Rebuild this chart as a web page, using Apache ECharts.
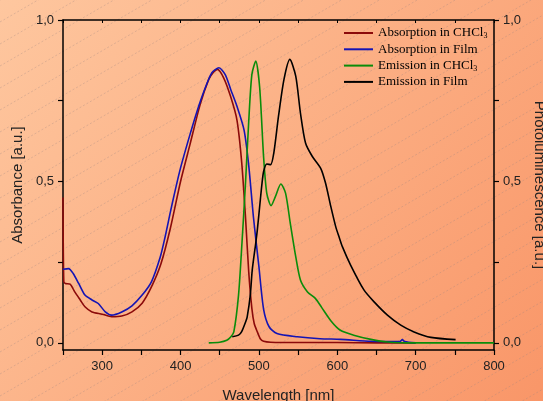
<!DOCTYPE html>
<html>
<head>
<meta charset="utf-8">
<script src="https://cdn.jsdelivr.net/npm/echarts@6/dist/echarts.min.js"></script>
<style>
  html, body { margin: 0; padding: 0; }
  #main { width: 543px; height: 401px; }
</style>
</head>
<body>
<div id="main"></div>
<script>
// 读图得到的数据 (wavelength in nm / value)
var absChclWl  = [250, 251, 253, 259, 265, 272, 278, 287, 300, 312, 325, 338, 351, 363, 375, 387, 400, 412, 425, 436, 442, 447, 455, 464, 472, 478, 483, 487, 491, 494, 498, 502, 506, 515, 550, 600, 650, 700];
var absChclVal = [0.45, 0.19, 0.184, 0.182, 0.158, 0.133, 0.112, 0.096, 0.089, 0.081, 0.083, 0.096, 0.123, 0.174, 0.245, 0.355, 0.5, 0.614, 0.738, 0.816, 0.838, 0.847, 0.821, 0.762, 0.69, 0.56, 0.385, 0.22, 0.107, 0.06, 0.034, 0.012, 0.005, 0.002, 0.001, 0.001, 0.0, 0.0];

var absFilmWl  = [250, 257, 263, 270, 278, 287, 295, 304, 312, 325, 338, 351, 363, 374, 380, 387, 392, 400, 412, 421, 430, 440, 449, 457, 464, 472, 481, 487, 493, 500, 506, 513, 523, 549, 578, 604, 643, 680, 683, 686, 700];
var absFilmVal = [0.228, 0.23, 0.215, 0.184, 0.148, 0.133, 0.122, 0.096, 0.086, 0.096, 0.115, 0.148, 0.19, 0.265, 0.325, 0.405, 0.46, 0.542, 0.645, 0.717, 0.78, 0.837, 0.852, 0.831, 0.785, 0.733, 0.66, 0.55, 0.39, 0.236, 0.104, 0.05, 0.029, 0.019, 0.013, 0.011, 0.005, 0.004, 0.01, 0.004, 0.0];

var emChclWl  = [436, 450, 459, 464, 468, 474, 478.5, 483, 487, 491, 496, 501, 506, 510, 515.5, 521, 528, 534, 540, 547, 553, 562, 572, 580, 592, 604, 621, 643, 664, 700, 800];
var emChclVal = [0, 0.002, 0.008, 0.018, 0.034, 0.148, 0.314, 0.5, 0.686, 0.831, 0.873, 0.79, 0.575, 0.464, 0.425, 0.453, 0.492, 0.464, 0.371, 0.267, 0.195, 0.158, 0.138, 0.11, 0.068, 0.039, 0.024, 0.011, 0.003, 0.0, 0.0];

var emFilmWl  = [466, 474, 478, 483, 485, 489, 491.5, 496, 498, 502, 504, 506, 510, 515, 519, 525, 532, 539.5, 547, 553, 559.5, 568, 579, 585, 591.5, 598, 602, 606.5, 617, 634, 647, 664, 681, 698, 719.5, 751];
var emFilmVal = [0.019, 0.024, 0.035, 0.065, 0.08, 0.148, 0.226, 0.31, 0.35, 0.448, 0.495, 0.531, 0.554, 0.552, 0.588, 0.702, 0.816, 0.878, 0.826, 0.712, 0.619, 0.578, 0.54, 0.495, 0.425, 0.36, 0.33, 0.298, 0.241, 0.164, 0.127, 0.086, 0.055, 0.034, 0.017, 0.01];

var seriesNames = ['Absorption in CHCl3', 'Absorption in Film', 'Emission in CHCl3', 'Emission in Film'];
var seriesColors = ['#8b0a0a', '#1414b4', '#0a8c0a', '#000000'];
var yTicks = [0, 0.25, 0.5, 0.75, 1];
var yLabels = [0, 0.5, 1];

(function() {
    var myChart = echarts.init(document.getElementById('main'));

    function pairs(xs, ys) {
        var out = [];
        for (var i = 0; i < xs.length; i++) out.push([xs[i], ys[i]]);
        return out;
    }
    var allData = [
        pairs(absChclWl, absChclVal),
        pairs(absFilmWl, absFilmVal),
        pairs(emChclWl, emChclVal),
        pairs(emFilmWl, emFilmVal)
    ];

    // 背景上的斜虚线
    var hatch = [];
    for (var c = 0; c < 760; c += 22) {
        hatch.push({
            type: 'line',
            silent: true,
            z: -10,
            shape: { x1: 0, y1: c, x2: 543, y2: c - 543 * 0.58 },
            style: { stroke: 'rgba(150,130,130,0.3)', lineWidth: 1, lineDash: [2, 2] }
        });
    }

    function fmt(v) {
        return v.toFixed(1).replace('.', ',');
    }

    var nameStyle = { fontFamily: 'Liberation Sans', fontSize: 15, color: '#222' };

    var yCommon = {
        type: 'value',
        min: -0.022,
        max: 1,
        nameLocation: 'middle',
        nameTextStyle: nameStyle,
        axisLine: { show: true, lineStyle: { color: '#000', width: 1.5 } },
        axisTick: { show: true, length: 5, customValues: yTicks, lineStyle: { color: '#000', width: 1.2 } },
        axisLabel: {
            customValues: yLabels,
            margin: 9,
            fontFamily: 'Liberation Sans',
            fontSize: 13,
            color: '#222',
            formatter: fmt
        },
        splitLine: { show: false }
    };

    var series = [];
    for (var i = 0; i < 4; i++) {
        series.push({
            name: seriesNames[i],
            type: 'line',
            yAxisIndex: i < 2 ? 0 : 1,
            data: allData[i],
            showSymbol: false,
            smooth: 0.25,
            lineStyle: { color: seriesColors[i], width: 1.6 },
            itemStyle: { color: seriesColors[i] },
            z: 3 + i
        });
    }

    var option = {
        backgroundColor: {
            type: 'linear', x: 0, y: 0, x2: 1, y2: 1,
            colorStops: [{ offset: 0, color: '#fec79f' }, { offset: 1, color: '#f99668' }]
        },
        animation: false,
        graphic: hatch,
        grid: { left: 63, right: 49, top: 20, bottom: 51, outerBoundsMode: 'none', containLabel: false },
        legend: {
            orient: 'vertical',
            left: 344,
            top: 26,
            padding: 0,
            itemWidth: 29,
            itemHeight: 2,
            itemGap: 2.3,
            icon: 'rect',
            data: seriesNames,
            textStyle: {
                fontFamily: 'Liberation Serif',
                fontSize: 13,
                color: '#000',
                lineHeight: 14,
                rich: {
                    sub: { fontFamily: 'Liberation Serif', fontSize: 8, color: '#000', verticalAlign: 'bottom', lineHeight: 14, padding: [5, 0, 0, 0] }
                }
            },
            formatter: function(name) {
                return name.replace(/CHCl3$/, 'CHCl{sub|3}');
            }
        },
        xAxis: [{
            type: 'value',
            min: 250,
            max: 800,
            interval: 50,
            name: 'Wavelength [nm]',
            nameLocation: 'middle',
            nameGap: 38,
            nameTextStyle: nameStyle,
            axisLine: { show: true, onZero: false, lineStyle: { color: '#000', width: 1.5 } },
            axisTick: { show: true, length: 5, lineStyle: { color: '#000', width: 1.2 } },
            axisLabel: {
                margin: 10,
                fontFamily: 'Liberation Sans',
                fontSize: 13,
                color: '#222',
                showMinLabel: true,
                formatter: function(v) { return v % 100 === 0 ? v : ''; }
            },
            splitLine: { show: false }
        }, {
            type: 'value',
            position: 'top',
            min: 250,
            max: 800,
            interval: 50,
            axisLine: { show: true, onZero: false, lineStyle: { color: '#000', width: 1.5 } },
            axisTick: { show: true, inside: true, length: 3, lineStyle: { color: '#000' } },
            axisLabel: { show: false },
            splitLine: { show: false }
        }],
        yAxis: [
            Object.assign({}, yCommon, { position: 'left', name: 'Absorbance [a.u.]', nameGap: 37 }),
            Object.assign({}, yCommon, { position: 'right', name: 'Photoluminescence [a.u.]', nameRotate: -90, nameGap: 34 })
        ],
        series: series
    };

    myChart.setOption(option);

    window.addEventListener('resize', function() {
        myChart.resize();
    });
})();
</script>
</body>
</html>
